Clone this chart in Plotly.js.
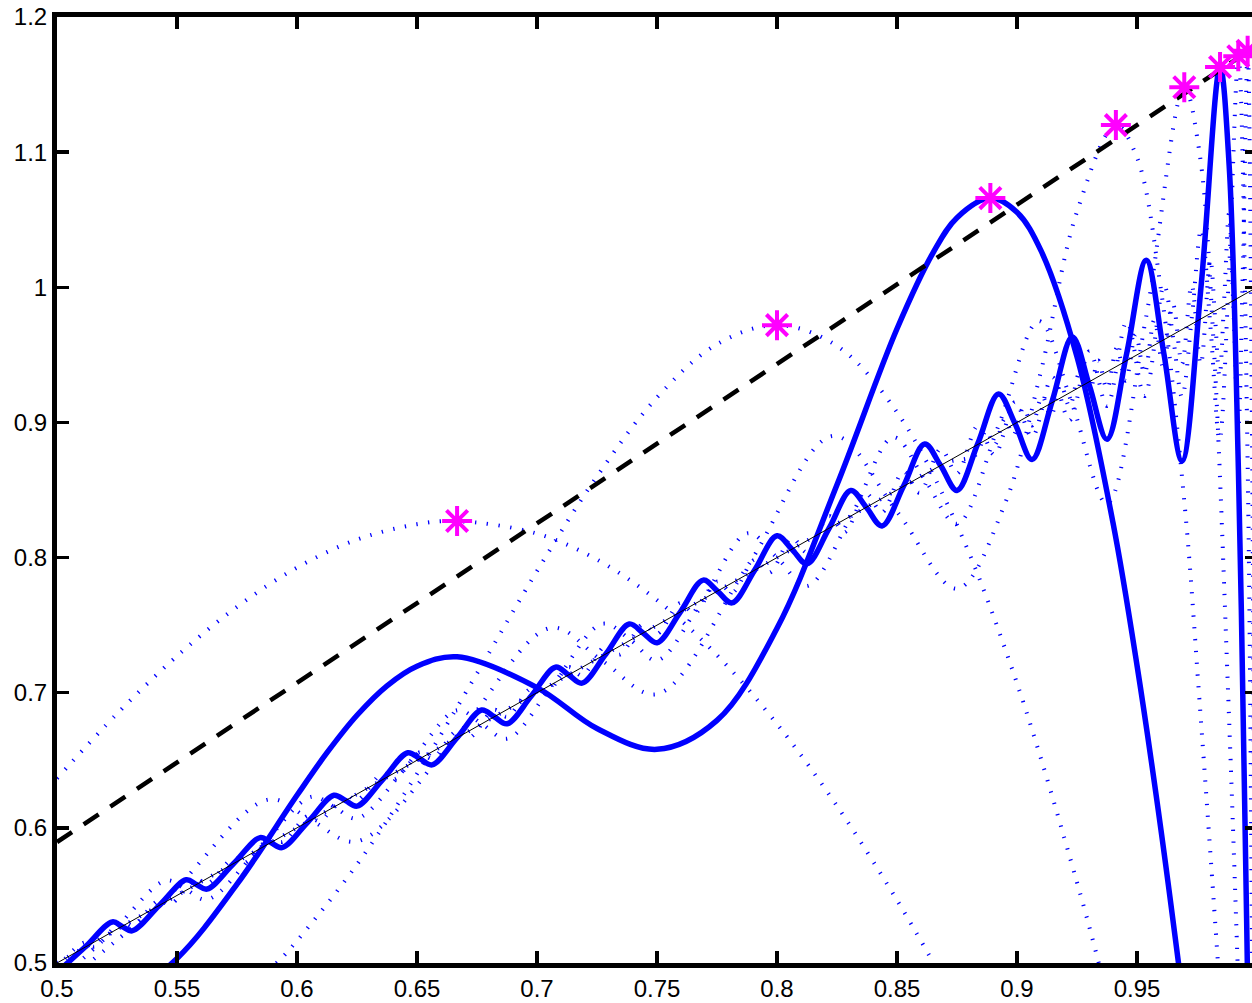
<!DOCTYPE html>
<html>
<head>
<meta charset="utf-8">
<script src="https://cdn.plot.ly/plotly-3.0.1.min.js"></script>
<style>
html,body{margin:0;padding:0;overflow:hidden;background:#fff;}
#chart{width:1262px;height:1003px;}
</style>
</head>
<body>
<div id="chart"></div>
<script>
// Partial sums S_N of the Fourier series of f(x)=x
var s2x = [0.5,0.525,0.55,0.575,0.6,0.625,0.65,0.6667,0.7,0.725,0.75,0.775,0.8,0.825,0.85,0.865,0.87,0.9];
var s2y = [0.6366,0.6844,0.7271,0.7636,0.7926,0.8133,0.8247,0.827,0.8177,0.7985,0.7685,0.7278,0.6769,0.6162,0.5465,0.5007,0.4848,0.3838];

var s4x = [0.5,0.55,0.59,0.6,0.625,0.65,0.675,0.7,0.725,0.75,0.775,0.8,0.825,0.85,0.875,0.9,0.925,0.935,0.95];
var s4y = [0.4244,0.4446,0.4976,0.5165,0.5729,0.640,0.7143,0.790,0.8601,0.9185,0.9579,0.972,0.9566,0.9075,0.824,0.7069,0.5597,0.4936,0.388];

var s16x = [0.5,0.5455,0.5882,0.606,0.625,0.667,0.7059,0.7273,0.75,0.788,0.8235,0.85,0.875,0.895,0.91,0.925,0.9412,0.95,0.96,0.97,0.976,0.984,0.99];
var s16y = [0.481,0.548,0.621,0.6055,0.590,0.669,0.748,0.7235,0.699,0.7945,0.890,0.834,0.777,0.84,0.938,1.056,1.120,1.096,0.998,0.836,0.695,0.493,0.33];

var s32x = [0.5,0.523,0.5455,0.554,0.5625,0.584,0.6061,0.6155,0.625,0.646,0.6667,0.677,0.6875,0.707,0.7273,0.739,0.75,0.769,0.7879,0.8,0.8125,0.831,0.8485,0.8615,0.875,0.8923,0.9091,0.9231,0.9375,0.9538,0.9697,0.976,0.982,0.988,0.992,0.995];
var s32y = [0.486,0.523,0.561,0.554,0.547,0.584,0.623,0.6155,0.607,0.646,0.687,0.677,0.666,0.707,0.751,0.739,0.724,0.769,0.818,0.8,0.779,0.831,0.889,0.858,0.825,0.8976,0.975,0.9128,0.840,0.978,1.148,1.10,0.956,0.698,0.495,0.33];

var s128x = [0.5,0.51163,0.51563,0.52713,0.53125,0.54264,0.54688,0.55814,0.5625,0.57364,0.57813,0.58915,0.59375,0.60465,0.60938,0.62016,0.625,0.63566,0.64063,0.65116,0.65625,0.66667,0.67188,0.68217,0.6875,0.69767,0.70313,0.71318,0.71875,0.72868,0.73438,0.74419,0.75,0.75969,0.76563,0.7752,0.78125,0.7907,0.79688,0.8062,0.8125,0.82171,0.82813,0.83721,0.84375,0.85271,0.85938,0.86822,0.875,0.88372,0.89063,0.89922,0.90625,0.91473,0.92188,0.93023,0.9375,0.94574,0.95313,0.96124,0.96512,0.96875,0.97287,0.97674,0.98062,0.98438,0.98837,0.99225,0.9961,0.998,0.999];
var s128y = [0.4965,0.5152,0.512,0.5308,0.5275,0.5464,0.5431,0.562,0.5586,0.5776,0.5741,0.5933,0.5896,0.6089,0.6051,0.6246,0.6205,0.6403,0.636,0.6559,0.6514,0.6716,0.6668,0.6874,0.6822,0.7031,0.6976,0.7189,0.7129,0.7347,0.7282,0.7506,0.7435,0.7664,0.7587,0.7824,0.7739,0.7984,0.7889,0.8145,0.8039,0.8307,0.8188,0.847,0.8335,0.8636,0.848,0.8803,0.8623,0.8974,0.8761,0.915,0.8893,0.9334,0.9016,0.9527,0.9122,0.9745,0.9195,1.0014,0.9619,0.9188,0.9782,1.0429,0.9703,0.8872,1.0125,1.171,0.87,0.4965,0.3];

var s256x = [0.5,0.6,0.7,0.8,0.85,0.87,0.88281,0.88716,0.89063,0.89494,0.89844,0.90272,0.90625,0.9105,0.91406,0.91829,0.92188,0.92607,0.92969,0.93385,0.9375,0.94163,0.94531,0.94942,0.95313,0.9572,0.96094,0.96498,0.96875,0.97276,0.97656,0.98054,0.98246,0.98438,0.98635,0.98833,0.99027,0.99219,0.99417,0.99611,0.998,0.999];
var s256y = [0.5,0.6,0.7,0.8,0.85,0.87,0.876,0.8942,0.8834,0.9025,0.8906,0.9109,0.8978,0.9194,0.9048,0.928,0.9117,0.9368,0.9184,0.9458,0.9248,0.9552,0.9308,0.9651,0.9362,0.9757,0.9406,0.9875,0.9434,1.0016,0.943,1.0207,0.9793,0.9344,0.9916,1.0545,0.98,0.895,1.0183,1.175,0.871,0.498];

var s8x = [0.5,0.525,0.55,0.575,0.6,0.6125,0.625,0.6375,0.65,0.6667,0.7,0.725,0.75,0.775,0.8,0.825,0.85,0.865,0.875,0.8889,0.9,0.91,0.925,0.94,0.95,0.96,0.97];
var s8y = [0.4608,0.4704,0.5034,0.5583,0.6241,0.6556,0.6833,0.7051,0.7196,0.7266,0.7038,0.6735,0.6581,0.6795,0.7477,0.8539,0.9693,1.0255,1.0515,1.066,1.0555,1.0271,0.9485,0.8257,0.7203,0.5984,0.4622];

var s64x = [0.5,0.5116,0.52308,0.5271,0.53125,0.5426,0.55385,0.5581,0.5625,0.5736,0.58462,0.5891,0.59375,0.6047,0.61538,0.6202,0.625,0.6357,0.64615,0.6512,0.65625,0.6667,0.67692,0.6822,0.6875,0.6977,0.70769,0.7132,0.71875,0.7287,0.73846,0.7442,0.75,0.7597,0.76923,0.7752,0.78125,0.7907,0.8,0.8062,0.8125,0.8217,0.83077,0.8372,0.84375,0.8527,0.86154,0.8682,0.875,0.8837,0.89231,0.8992,0.90625,0.9147,0.92308,0.9302,0.9375,0.9457,0.95385,0.9612,0.96875,0.9767,0.98462,0.9884,0.99225,0.995,0.996,0.997];
var s64y = [0.493,0.5116,0.5304,0.5271,0.5238,0.5426,0.5616,0.5581,0.5547,0.5736,0.5928,0.5891,0.5854,0.6047,0.6241,0.6202,0.6161,0.6357,0.6556,0.6512,0.6466,0.6667,0.6872,0.6822,0.677,0.6977,0.7189,0.7132,0.7071,0.7287,0.7509,0.7442,0.737,0.7597,0.7833,0.7752,0.7665,0.7907,0.8161,0.8062,0.7954,0.8217,0.8497,0.8372,0.8234,0.8527,0.884,0.868,0.8497,0.8845,0.9211,0.899,0.8726,0.916,0.9633,0.927,0.8875,0.951,1.02,0.9509,0.8715,1.0008,1.163,1.09,0.865,0.604,0.496,0.38];

var lineX = [0.5, 1.0];
var lineY = [0.5, 1.0];
var gibbsX = [0.5, 1.0];
var gibbsY = [0.5895, 1.179];

var starX = [0.6667,0.8,0.8889,0.9412,0.9697,0.9846,0.9922,0.9961];
var starY = [0.827,0.972,1.066,1.120,1.148,1.163,1.171,1.175];

var xTicks = [0.5,0.55,0.6,0.65,0.7,0.75,0.8,0.85,0.9,0.95,1.0];
var xTickText = ['0.5','0.55','0.6','0.65','0.7','0.75','0.8','0.85','0.9','0.95','1'];
var yTicks = [0.5,0.6,0.7,0.8,0.9,1.0,1.1,1.2];
var yTickText = ['0.5','0.6','0.7','0.8','0.9','1','1.1','1.2'];

var BLUE = '#0000ff';
var dotted = {color: BLUE, width: 4, dash: '1.3px,10.5px', shape: 'spline'};
function dot(x, y) { return {x: x, y: y, mode: 'lines', line: dotted, hoverinfo: 'skip'}; }

var traces = [
  dot(s2x, s2y), dot(s4x, s4y), dot(s16x, s16y), dot(s32x, s32y), dot(s128x, s128y), dot(s256x, s256y),
  {x: s8x, y: s8y, mode: 'lines', line: {color: BLUE, width: 5.5, shape: 'spline'}},
  {x: s64x, y: s64y, mode: 'lines', line: {color: BLUE, width: 5.5, shape: 'spline'}},
  {x: lineX, y: lineY, mode: 'lines', line: {color: '#000', width: 1}},
  {x: gibbsX, y: gibbsY, mode: 'lines', line: {color: '#000', width: 4.5, dash: '18px,14px'}},
  {x: starX, y: starY, mode: 'markers', marker: {symbol: 'asterisk-open', size: 25, color: '#ff00ff', line: {color: '#ff00ff', width: 4}}}
];

var font = {family: 'Liberation Sans, Arial, sans-serif', size: 24, color: '#000'};
var axisCommon = {
  showgrid: false, zeroline: false, showline: true, linecolor: '#000', linewidth: 5,
  mirror: 'ticks', ticks: 'inside', ticklen: 12, tickwidth: 3.5, tickcolor: '#000',
  tickfont: font, tickmode: 'array', fixedrange: true
};

var layout = {
  width: 1262, height: 1003,
  margin: {l: 57, r: 5, t: 17, b: 40, pad: 0},
  paper_bgcolor: '#fff', plot_bgcolor: '#fff',
  showlegend: false,
  xaxis: Object.assign({}, axisCommon, {range: [0.5, 1.0], tickvals: xTicks, ticktext: xTickText}),
  yaxis: Object.assign({}, axisCommon, {range: [0.5, 1.2], tickvals: yTicks, ticktext: yTickText})
};

Plotly.newPlot('chart', traces, layout, {staticPlot: true, displayModeBar: false});
</script>
</body>
</html>
